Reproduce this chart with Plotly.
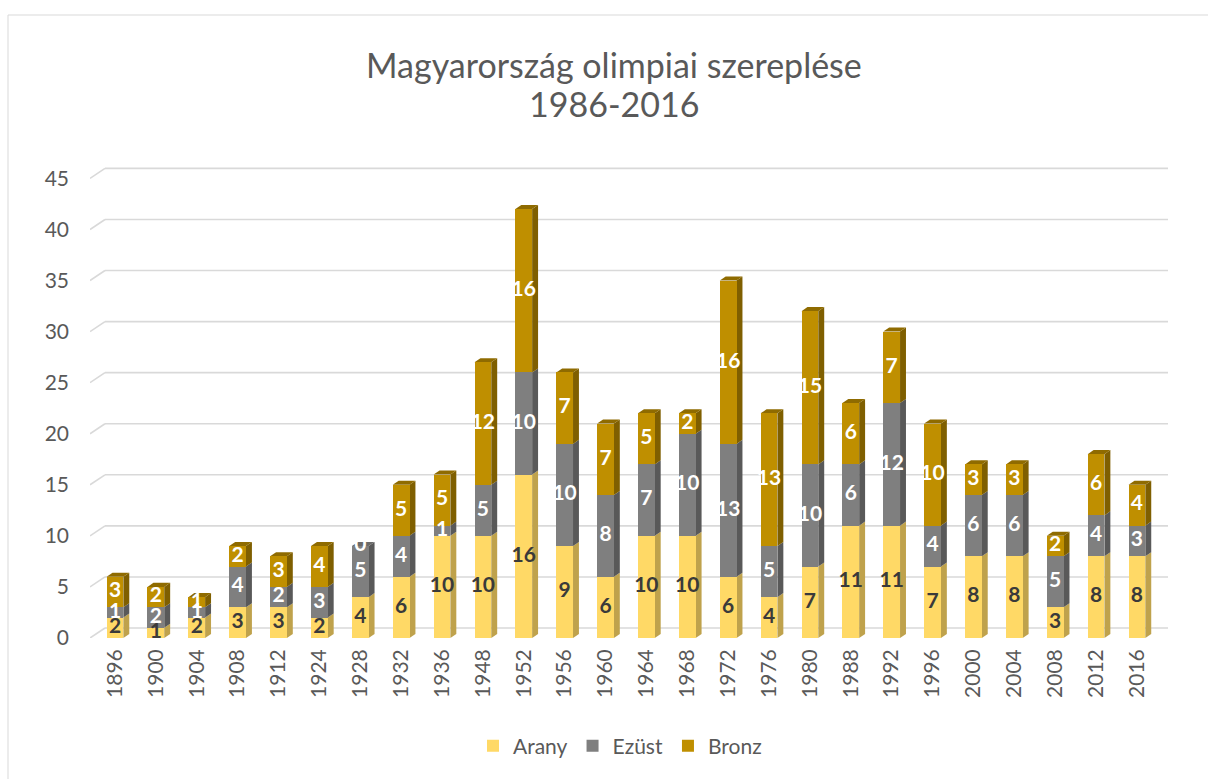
import plotly.graph_objects as go

YEARS = ["1896", "1900", "1904", "1908", "1912", "1924", "1928", "1932", "1936", "1948",
         "1952", "1956", "1960", "1964", "1968", "1972", "1976", "1980", "1988", "1992",
         "1996", "2000", "2004", "2008", "2012", "2016"]
ARANY = [2, 1, 2, 3, 3, 2, 4, 6, 10, 10, 16, 9, 6, 10, 10, 6, 4, 7, 11, 11, 7, 8, 8, 3, 8, 8]
EZUST = [1, 2, 1, 4, 2, 3, 5, 4, 1, 5, 10, 10, 8, 7, 10, 13, 5, 10, 6, 12, 4, 6, 6, 5, 4, 3]
BRONZ = [3, 2, 1, 2, 3, 4, 0, 5, 5, 12, 16, 7, 7, 5, 2, 16, 13, 15, 6, 7, 10, 3, 3, 2, 6, 4]
Y_TICKS = [0, 5, 10, 15, 20, 25, 30, 35, 40, 45]
TITLE_LINES = ["Magyarország olimpiai szereplése", "1986-2016"]

SERIES = [
    ("Arany", ARANY, "#FFD966", "#BFA24C", "#E8C65A", "#3A3A3A"),
    ("Ezüst", EZUST, "#7F7F7F", "#595959", "#6A6A6A", "#FFFFFF"),
    ("Bronz", BRONZ, "#BF8F00", "#7F5F00", "#8F6B00", "#FFFFFF"),
]

W = 0.41      # bar width (category units)
DX = 0.145    # bar depth, x
DY = 0.40     # bar depth, y
GX = 0.367    # wall offset x
GY = 0.98     # wall offset y
X0, X1 = -0.611, 25.76
FONT = "Lato"
GREY = "#595959"

# plot area in pixels
PL, PR, PT, PB = 90, 1168, 158, 638


def px_x(p):
    return (p - PL) / (PR - PL)


def px_y(p):
    return (PB - p) / (PB - PT)


n = len(YEARS)
xs = list(range(n))
fig = go.Figure()
shapes = []

# back-wall gridlines + diagonal side lines
for v in Y_TICKS:
    shapes.append(dict(type="line", xref="x", yref="y", x0=X0, y0=v, x1=X0 + GX, y1=v + GY,
                       line=dict(color="#D9D9D9", width=1.6), layer="below"))
    shapes.append(dict(type="line", xref="x", yref="y", x0=X0 + GX, y0=v + GY, x1=X1, y1=v + GY,
                       line=dict(color="#D9D9D9", width=1.6), layer="below"))

bases = [0] * n
for name, vals, front, side, top, tcol in SERIES:
    fig.add_trace(go.Bar(x=xs, y=vals, base=bases[:], name=name, width=W,
                         marker=dict(color=front, line=dict(width=0)),
                         hoverinfo="name+y"))
    for i, v in enumerate(vals):
        if v <= 0:
            continue
        xr = i + W / 2
        y0 = bases[i]
        y1 = bases[i] + v
        shapes.append(dict(type="path", xref="x", yref="y", layer="below",
                           path=f"M{xr},{y0} L{xr + DX},{y0 + DY} L{xr + DX},{y1 + DY} L{xr},{y1} Z",
                           fillcolor=side, line=dict(width=0)))
    fig.add_trace(go.Scatter(x=xs, y=[b + v / 2 for b, v in zip(bases, vals)],
                             text=[str(v) for v in vals], mode="text", showlegend=False,
                             hoverinfo="skip", cliponaxis=False,
                             textfont=dict(family=FONT, size=21, color=tcol, weight="bold")))
    bases = [b + v for b, v in zip(bases, vals)]

# top faces
for i in range(n):
    top_col = None
    for name, vals, front, side, top, tcol in SERIES:
        if vals[i] > 0:
            top_col = top
    xl, xr, yt = i - W / 2, i + W / 2, bases[i]
    shapes.append(dict(type="path", xref="x", yref="y", layer="below",
                       path=f"M{xl},{yt} L{xl + DX},{yt + DY} L{xr + DX},{yt + DY} L{xr},{yt} Z",
                       fillcolor=top_col, line=dict(width=0)))

# chart border (Excel chart area)
shapes.append(dict(type="rect", xref="paper", yref="paper",
                   x0=px_x(8), x1=px_x(1260), y0=px_y(820), y1=px_y(15),
                   line=dict(color="#D9D9D9", width=1), fillcolor="rgba(0,0,0,0)", layer="below"))

annotations = [
    dict(text=TITLE_LINES[0], xref="paper", yref="paper", x=px_x(614), y=px_y(64),
         xanchor="center", yanchor="middle", showarrow=False,
         font=dict(family=FONT, size=34, color=GREY)),
    dict(text=TITLE_LINES[1], xref="paper", yref="paper", x=px_x(614), y=px_y(103),
         xanchor="center", yanchor="middle", showarrow=False,
         font=dict(family=FONT, size=34, color=GREY)),
]

fig.update_layout(
    width=1208, height=779,
    margin=dict(l=PL, r=1208 - PR, t=PT, b=779 - PB, autoexpand=False),
    paper_bgcolor="white", plot_bgcolor="white",
    barmode="stack", bargap=0,
    shapes=shapes, annotations=annotations,
    legend=dict(orientation="h", x=px_x(620), xanchor="center",
                y=px_y(746), yanchor="middle", traceorder="normal",
                font=dict(family=FONT, size=21, color=GREY)),
    xaxis=dict(range=[X0, X1], tickvals=xs, ticktext=YEARS, tickangle=-90,
               showgrid=False, zeroline=False, showline=False, ticks="",
               tickfont=dict(family=FONT, size=21, color=GREY), ticklabelstandoff=6),
    yaxis=dict(range=[0, 47], tickvals=Y_TICKS, showgrid=False, zeroline=False, showline=False,
               ticks="", tickfont=dict(family=FONT, size=21, color=GREY), ticklabelstandoff=20),
)

fig.write_html("out.html", config={"displayModeBar": False},
               post_script="document.body.style.margin='0';document.body.style.overflow='hidden';")
